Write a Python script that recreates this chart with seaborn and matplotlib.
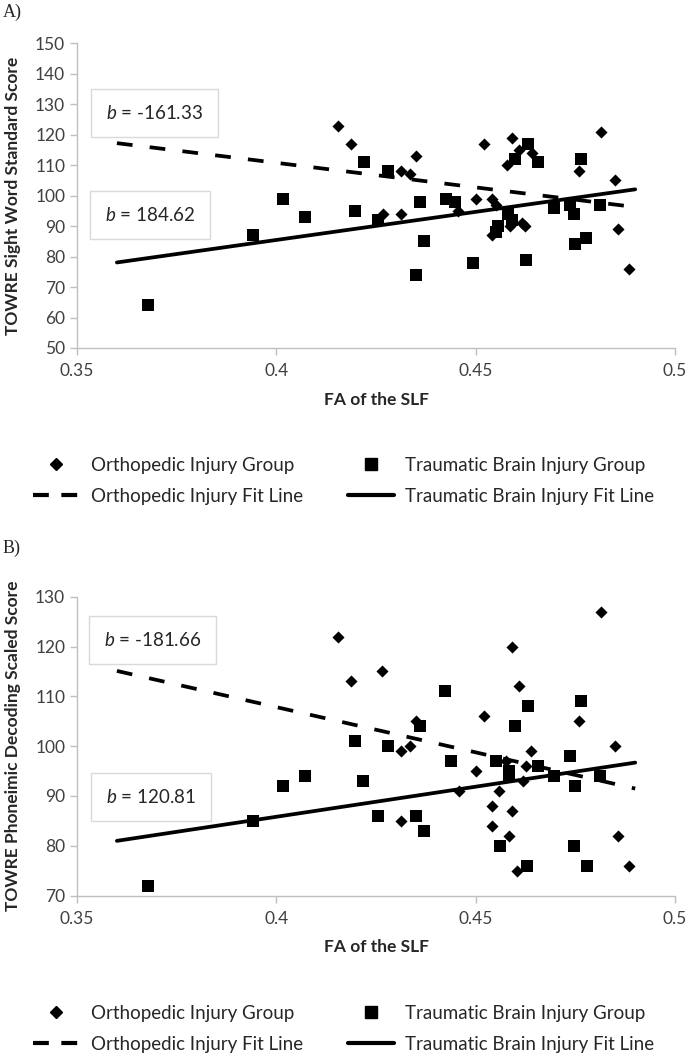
import numpy as np
import matplotlib
matplotlib.use("Agg")
import matplotlib.pyplot as plt
import seaborn as sns
from matplotlib.lines import Line2D

# ---- Panel A: TOWRE Sight Word Standard Score ----
a_oi_x = [0.4154, 0.4187, 0.4268, 0.4312, 0.4312, 0.4335, 0.4350, 0.4456, 0.4501,
          0.4521, 0.4542, 0.4551, 0.4540, 0.4578, 0.4590, 0.4590, 0.4609, 0.4624,
          0.4585, 0.4615, 0.4640, 0.4759, 0.4814, 0.4849, 0.4856, 0.4885]
a_oi_y = [123, 117, 94, 108, 94, 107, 113, 95, 99,
          117, 99, 97, 87, 110, 119, 91, 115, 90,
          90, 91, 114, 108, 121, 105, 89, 76]
a_tbi_x = [0.3677, 0.3941, 0.4017, 0.4072, 0.4196, 0.4219, 0.4255, 0.4279, 0.4350,
           0.4359, 0.4371, 0.4425, 0.4448, 0.4494, 0.4557, 0.4552, 0.4582, 0.4590,
           0.4598, 0.4626, 0.4630, 0.4655, 0.4696, 0.4737, 0.4746, 0.4749, 0.4765,
           0.4777, 0.4812]
a_tbi_y = [64, 87, 99, 93, 95, 111, 92, 108, 74,
           98, 85, 99, 98, 78, 90, 88, 94, 92,
           112, 79, 117, 111, 96, 97, 94, 84, 112,
           86, 97]
a_slope = [-161.33, 184.62]      # OI, TBI
a_intercept = [175.3, 11.6]

# ---- Panel B: TOWRE Phoneimic Decoding Scaled Score ----
b_oi_x = [0.4154, 0.4187, 0.4266, 0.4312, 0.4312, 0.4335, 0.4350, 0.4459, 0.4501,
          0.4521, 0.4540, 0.4540, 0.4559, 0.4577, 0.4583, 0.4591, 0.4590, 0.4604,
          0.4609, 0.4618, 0.4625, 0.4639, 0.4759, 0.4814, 0.4849, 0.4856, 0.4885]
b_oi_y = [122, 113, 115, 99, 85, 100, 105, 91, 95,
          106, 88, 84, 91, 97, 82, 87, 120, 75,
          112, 93, 96, 99, 105, 127, 100, 82, 76]
b_tbi_x = [0.3677, 0.3941, 0.4017, 0.4072, 0.4196, 0.4218, 0.4256, 0.4281, 0.4349,
           0.4359, 0.4371, 0.4424, 0.4438, 0.4560, 0.4552, 0.4584, 0.4584, 0.4598,
           0.4629, 0.4630, 0.4655, 0.4696, 0.4736, 0.4746, 0.4749, 0.4765, 0.4778,
           0.4812]
b_tbi_y = [72, 85, 92, 94, 101, 93, 86, 100, 86,
           104, 83, 111, 97, 80, 97, 95, 94, 104,
           76, 108, 96, 94, 98, 80, 92, 109, 76,
           94]
b_slope = [-181.66, 120.81]
b_intercept = [180.5, 37.5]

fit_x = np.array([0.36, 0.49])
legend_labels = ["Orthopedic Injury Group", "Orthopedic Injury Fit Line",
                 "Traumatic Brain Injury Group", "Traumatic Brain Injury Fit Line"]

sns.set_theme(style="white")
plt.rcParams["font.family"] = ["Lato", "DejaVu Sans"]
plt.rcParams["mathtext.fontset"] = "custom"
plt.rcParams["mathtext.it"] = "Lato:italic"
plt.rcParams["mathtext.rm"] = "Lato"

fig = plt.figure(figsize=(6.89, 10.58), dpi=100)
ax_a = fig.add_axes([0.1118, 0.6711, 0.868, 0.288])
ax_b = fig.add_axes([0.1118, 0.1535, 0.868, 0.2825])

DASH = (4.2, 4.6)


def draw_panel(ax, oi_x, oi_y, tbi_x, tbi_y, slope, intercept, ylim, yticks, ylabel, notes):
    sns.scatterplot(x=oi_x, y=oi_y, marker="D", s=38, color="black", linewidth=0, ax=ax, zorder=3)
    sns.scatterplot(x=tbi_x, y=tbi_y, marker="s", s=66, color="black", linewidth=0, ax=ax, zorder=3)
    oi_fit = intercept[0] + slope[0] * fit_x
    tbi_fit = intercept[1] + slope[1] * fit_x
    sns.lineplot(x=fit_x, y=oi_fit, color="black", lw=2.7, ax=ax, zorder=2).lines[-1].set_dashes(DASH)
    sns.lineplot(x=fit_x, y=tbi_fit, color="black", lw=2.7, ax=ax, zorder=2)

    ax.set_xlim(0.35, 0.5)
    ax.set_ylim(*ylim)
    ax.set_xticks([0.35, 0.4, 0.45, 0.5])
    ax.set_xticklabels(["0.35", "0.4", "0.45", "0.5"])
    ax.set_yticks(yticks)
    ax.tick_params(axis="both", labelsize=12.5, colors="#404040", length=5, width=1,
                   direction="out", color="#bfbfbf", left=True, bottom=True)
    ax.tick_params(axis="x", pad=6)
    for side in ["top", "right"]:
        ax.spines[side].set_visible(False)
    for side in ["left", "bottom"]:
        ax.spines[side].set_color("#bfbfbf")
        ax.spines[side].set_linewidth(1)
    ax.set_xlabel("FA of the SLF", fontsize=12.5, fontweight="bold", color="#262626", labelpad=9)
    ax.set_ylabel(ylabel, fontsize=12.5, fontweight="bold", color="#262626", labelpad=10)

    for (tx, ty, txt) in notes:
        ax.text(tx, ty, txt, fontsize=13.5, color="#262626", ha="center", va="center",
                bbox=dict(boxstyle="square,pad=0.8", fc="white", ec="#d9d9d9", lw=1), zorder=4)


draw_panel(ax_a, a_oi_x, a_oi_y, a_tbi_x, a_tbi_y, a_slope, a_intercept,
           (50, 150), range(50, 151, 10), "TOWRE Sight Word Standard Score",
           [(0.3695, 127.1, "$b$ = -161.33"), (0.3683, 93.6, "$b$ = 184.62")])
draw_panel(ax_b, b_oi_x, b_oi_y, b_tbi_x, b_tbi_y, b_slope, b_intercept,
           (70, 130), range(70, 131, 10), "TOWRE Phoneimic Decoding Scaled Score",
           [(0.3689, 121.3, "$b$ = -181.66"), (0.3686, 89.8, "$b$ = 120.81")])

handles = [Line2D([], [], marker="D", ls="none", color="black", markersize=6.5),
           Line2D([], [], color="black", lw=3.0, dashes=(3.8, 3.0)),
           Line2D([], [], marker="s", ls="none", color="black", markersize=8.5),
           Line2D([], [], color="black", lw=3.0)]
for ycen in [0.5455, 0.0275]:
    fig.legend(handles, legend_labels, loc="center", bbox_to_anchor=(0.499, ycen), ncol=2,
               frameon=False, fontsize=13.5, handlelength=2.45, handletextpad=0.6,
               columnspacing=2.4, labelspacing=0.75, labelcolor="#262626")

fig.text(0.004, 0.988, "A)", fontsize=13, family="Liberation Serif", va="center")
fig.text(0.004, 0.482, "B)", fontsize=13, family="Liberation Serif", va="center")

fig.savefig("out.png", dpi=100)
